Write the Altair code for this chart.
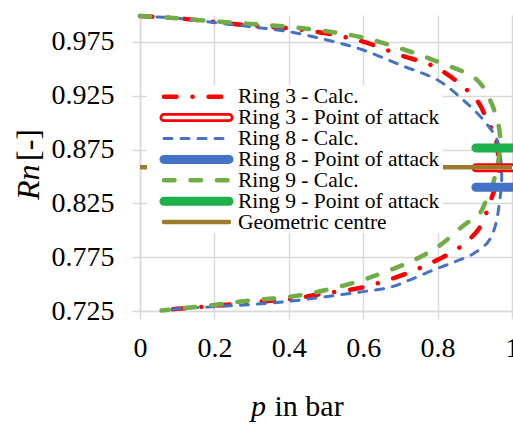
import altair as alt
import pandas as pd

FONT = "Liberation Serif"

# ---------------- data ----------------
ring3_p = [0.000, 0.100, 0.200, 0.300, 0.400, 0.500, 0.600, 0.700, 0.800, 0.905, 0.935,
           0.954, 0.962, 0.965, 0.962, 0.946, 0.935, 0.914, 0.874, 0.825, 0.772, 0.718,
           0.659, 0.600, 0.500, 0.400, 0.300, 0.200, 0.100, 0.058]
ring3_rn = [0.999, 0.997, 0.9935, 0.990, 0.9876, 0.983, 0.9752, 0.9628, 0.9505, 0.921, 0.9006,
            0.888, 0.872, 0.858, 0.847, 0.831, 0.820, 0.803, 0.788, 0.777, 0.768, 0.760,
            0.753, 0.747, 0.7415, 0.736, 0.733, 0.7298, 0.727, 0.7255]

ring8_p = [0.000, 0.100, 0.200, 0.300, 0.400, 0.500, 0.600, 0.700, 0.800, 0.869, 0.923,
           0.960, 0.970, 0.972, 0.966, 0.958, 0.948, 0.933, 0.895, 0.841, 0.788, 0.726,
           0.672, 0.600, 0.500, 0.400, 0.300, 0.200, 0.100, 0.058]
ring8_rn = [0.999, 0.997, 0.993, 0.989, 0.9845, 0.977, 0.9675, 0.9535, 0.9396, 0.921, 0.9025,
            0.884, 0.865, 0.845, 0.825, 0.808, 0.797, 0.788, 0.778, 0.770, 0.763, 0.754,
            0.747, 0.743, 0.7383, 0.734, 0.731, 0.729, 0.727, 0.7255]

ring9_p = [0.000, 0.100, 0.200, 0.300, 0.400, 0.500, 0.600, 0.700, 0.800, 0.905, 0.941,
           0.962, 0.968, 0.965, 0.954, 0.946, 0.927, 0.914, 0.868, 0.806, 0.735, 0.672,
           0.600, 0.500, 0.400, 0.300, 0.200, 0.100, 0.058]
ring9_rn = [0.999, 0.997, 0.994, 0.9916, 0.989, 0.985, 0.979, 0.969, 0.9566, 0.940, 0.921,
            0.900, 0.887, 0.868, 0.850, 0.840, 0.825, 0.816, 0.804, 0.786, 0.772, 0.763,
            0.754, 0.7445, 0.738, 0.735, 0.7306, 0.727, 0.7255]

# points of attack (horizontal bars) and geometric centre
poa_names = ["Ring 3 - Point of attack", "Ring 8 - Point of attack", "Ring 9 - Point of attack"]
poa_rn = [0.858, 0.840, 0.8765]
poa_p = [0.903, 1.0]
centre_rn = 0.8585
centre_p = [0.0, 1.0]

x_ticks = [0, 0.2, 0.4, 0.6, 0.8, 1]
y_ticks = [0.725, 0.775, 0.825, 0.875, 0.925, 0.975]

legend_labels = ["Ring 3 - Calc.", "Ring 3 - Point of attack", "Ring 8 - Calc.",
                 "Ring 8 - Point of attack", "Ring 9 - Calc.", "Ring 9 - Point of attack",
                 "Geometric centre"]

# ---------------- styles ----------------
RED = "#FF0000"
BLUE = "#4472C4"
GREEN_C = "#70AD47"
GREEN_P = "#1DB04B"
BROWN = "#9C7A2E"
GRID = "#D9D9D9"

xs = alt.Scale(domain=[0, 1])
ys = alt.Scale(domain=[0.725, 1.0])
x_axis = alt.Axis(values=x_ticks, format="~g", title=None, grid=True, gridColor=GRID,
                  gridWidth=1.5, domainColor=GRID, domainWidth=1.5, tickColor=GRID,
                  tickWidth=1.5, tickSize=8, labelFont=FONT, labelFontSize=28,
                  labelColor="black", labelPadding=15, labelFlush=False, labelOverlap=False)
y_axis = alt.Axis(values=y_ticks, format=".3f", title=None, grid=True, gridColor=GRID,
                  gridWidth=1.5, domainColor=GRID, domainWidth=1.5, tickColor=GRID,
                  tickWidth=1.5, tickSize=8, labelFont=FONT, labelFontSize=28,
                  labelColor="black", labelPadding=18, labelFlush=False, labelOverlap=False)


def curve_df(name, ps, rns):
    return pd.DataFrame({"series": name, "p": ps, "Rn": rns, "ord": list(range(len(ps)))})


def line_layer(df, **mark):
    return alt.Chart(df).mark_line(**mark).encode(
        x=alt.X("p:Q", scale=xs, axis=x_axis),
        y=alt.Y("Rn:Q", scale=ys, axis=y_axis),
        order="ord:Q",
    )


one = alt.Data(values=[{"k": 1}])

layers = []
# calculated curves
layers.append(line_layer(curve_df("Ring 3 - Calc.", ring3_p, ring3_rn), color=RED,
                         strokeWidth=4.5, strokeDash=[12.5, 16, 0.1, 16], strokeCap="round",
                         interpolate="catmull-rom"))
layers.append(line_layer(curve_df("Ring 8 - Calc.", ring8_p, ring8_rn), color=BLUE,
                         strokeWidth=3, strokeDash=[8, 9], strokeCap="round",
                         interpolate="catmull-rom"))
layers.append(line_layer(curve_df("Ring 9 - Calc.", ring9_p, ring9_rn), color=GREEN_C,
                         strokeWidth=4.5, strokeDash=[10.5, 16], strokeCap="round",
                         interpolate="catmull-rom"))

# points of attack
layers.append(line_layer(curve_df(poa_names[2], poa_p, [poa_rn[2]] * 2), color=GREEN_P,
                         strokeWidth=9, strokeCap="round"))
layers.append(line_layer(curve_df(poa_names[1], poa_p, [poa_rn[1]] * 2), color=BLUE,
                         strokeWidth=9, strokeCap="round"))
layers.append(line_layer(curve_df(poa_names[0], poa_p, [poa_rn[0]] * 2), color=RED,
                         strokeWidth=9, strokeCap="round"))
layers.append(line_layer(curve_df(poa_names[0], poa_p, [poa_rn[0]] * 2), color="white",
                         strokeWidth=3.5, strokeCap="round"))
# geometric centre
layers.append(line_layer(curve_df("Geometric centre", centre_p, [centre_rn] * 2), color=BROWN,
                         strokeWidth=4.5, strokeCap="butt"))

# legend box
layers.append(alt.Chart(one).mark_rect(color="white").encode(
    x=alt.value(7), x2=alt.value(303), y=alt.value(70), y2=alt.value(218)))

legend_styles = [
    [dict(color=RED, strokeWidth=4.5, strokeDash=[12.5, 16, 0.1, 16], strokeCap="round")],
    [dict(color=RED, strokeWidth=9, strokeCap="round"),
     dict(color="white", strokeWidth=3.5, strokeCap="round")],
    [dict(color=BLUE, strokeWidth=3, strokeDash=[8, 9], strokeCap="round")],
    [dict(color=BLUE, strokeWidth=9, strokeCap="round")],
    [dict(color=GREEN_C, strokeWidth=4.5, strokeDash=[10.5, 16], strokeCap="round")],
    [dict(color=GREEN_P, strokeWidth=9, strokeCap="round")],
    [dict(color=BROWN, strokeWidth=4.5, strokeCap="round")],
]
for i, (lab, sty) in enumerate(zip(legend_labels, legend_styles)):
    ry = 81.7 + 20.9 * i
    for s in sty:
        layers.append(alt.Chart(one).mark_rule(**s).encode(
            x=alt.value(24), x2=alt.value(89), y=alt.value(ry)))
    layers.append(alt.Chart(one).mark_text(text=lab, font=FONT, fontSize=21.5, color="black",
                                           align="left", baseline="middle").encode(
        x=alt.value(98), y=alt.value(ry + 0.5)))

# axis titles (partly italic)
layers.append(alt.Chart(one).mark_text(text="p", font=FONT, fontSize=30, fontStyle="italic",
                                       color="black", align="left", baseline="alphabetic").encode(
    x=alt.value(111), y=alt.value(401)))
layers.append(alt.Chart(one).mark_text(text="in bar", font=FONT, fontSize=30, color="black",
                                       align="left", baseline="alphabetic").encode(
    x=alt.value(134.5), y=alt.value(401)))
layers.append(alt.Chart(one).mark_text(text="Rn", font=FONT, fontSize=32, fontStyle="italic",
                                       color="black", align="left", baseline="alphabetic",
                                       angle=270).encode(
    x=alt.value(-101.5), y=alt.value(185)))
layers.append(alt.Chart(one).mark_text(text="[-]", font=FONT, fontSize=32, color="black",
                                       align="left", baseline="alphabetic", angle=270).encode(
    x=alt.value(-101.5), y=alt.value(146)))

chart = alt.layer(*layers).properties(
    width=372, height=296,
    padding={"left": 140, "top": 15, "right": 1, "bottom": 114},
    autosize=alt.AutoSizeParams(type="none"),
    background="white",
).configure_view(strokeWidth=0)

chart.save("out.html", embed_options={"renderer": "svg", "actions": False})
